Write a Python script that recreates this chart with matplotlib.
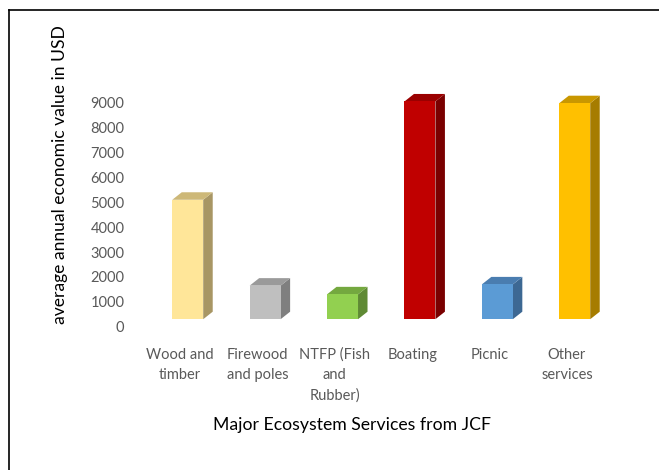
import matplotlib
matplotlib.use("Agg")
import matplotlib.pyplot as plt
from matplotlib.patches import Polygon
from matplotlib.lines import Line2D
import numpy as np

categories = ["Wood and\ntimber", "Firewood\nand poles", "NTFP (Fish\nand\nRubber)",
              "Boating", "Picnic", "Other\nservices"]
values = [5100, 1650, 1300, 9050, 1700, 8980]
front_colors = ["#FFE699", "#BFBFBF", "#92D050", "#C00000", "#5B9BD5", "#FFC000"]
side_colors = ["#A89664", "#7F7F7F", "#5F8A34", "#7A0000", "#3D6893", "#A67C00"]
top_colors = ["#CDB878", "#9A9A9A", "#74A83F", "#9A0000", "#4A7DB0", "#C99700"]
yticks = [0, 1000, 2000, 3000, 4000, 5000, 6000, 7000, 8000, 9000]

plt.rcParams['font.family'] = ['Lato', 'DejaVu Sans']

W, H = 659, 470
fig = plt.figure(figsize=(W / 100, H / 100), dpi=100)

# axes geometry in pixels
px_per_cat = 77.4
tick0_px = 180.0
left_px, right_px = 130.0, 636.7
y0_px, y9000_px = 326.7, 102.7
xlo = (left_px - tick0_px) / px_per_cat
xhi = (right_px - tick0_px) / px_per_cat
ax = fig.add_axes([left_px / W, 1 - y0_px / H, (right_px - left_px) / W, (y0_px - y9000_px) / H])
ax.set_xlim(xlo, xhi)
ax.set_ylim(0, 9000)

px_per_unit_y = (y0_px - y9000_px) / 9000.0
shift = 0.1          # perspective shift of bars relative to labels
width = 0.4
dx = 9.5 / px_per_cat
dy = 7.5 / px_per_unit_y
base = dy

x = np.arange(len(categories))
xb = x + shift
bars = ax.bar(xb, np.array(values) - base, bottom=base, width=width,
              color=front_colors, edgecolor='none', zorder=3, clip_on=False)
for xi, v, sc, tc in zip(xb, values, side_colors, top_colors):
    r = xi + width / 2
    l = xi - width / 2
    side = Polygon([(r, base), (r + dx, base + dy), (r + dx, v + dy), (r, v)],
                   closed=True, facecolor=sc, edgecolor='none', zorder=2, clip_on=False)
    top = Polygon([(l, v), (r, v), (r + dx, v + dy), (l + dx, v + dy)],
                  closed=True, facecolor=tc, edgecolor='none', zorder=2, clip_on=False)
    ax.add_patch(side)
    ax.add_patch(top)

for s in ax.spines.values():
    s.set_visible(False)
ax.set_yticks(yticks)
ax.set_yticklabels([str(t) for t in yticks])
ax.tick_params(axis='y', length=0, pad=4, labelsize=10.5, labelcolor='#595959')
ax.set_xticks(x)
ax.set_xticklabels(categories, linespacing=1.55)
ax.tick_params(axis='x', length=0, pad=15, labelsize=10.5, labelcolor='#595959')

fig.text(60 / W, 1 - 174.5 / H, "average annual economic value in USD", rotation=90,
         ha='center', va='center', fontsize=12.6, color='#000000')
fig.text(351.7 / W, 1 - 425 / H, "Major Ecosystem Services from JCF",
         ha='center', va='center', fontsize=12.7, color='#000000')

# outer frame (top and left edges visible)
fig.add_artist(Line2D([8.5 / W, 1.0], [1 - 9.5 / H, 1 - 9.5 / H], color='#000000', lw=1.2))
fig.add_artist(Line2D([8.5 / W, 8.5 / W], [1 - 9.5 / H, 0.0], color='#000000', lw=1.2))

fig.savefig("out.png", dpi=100)
